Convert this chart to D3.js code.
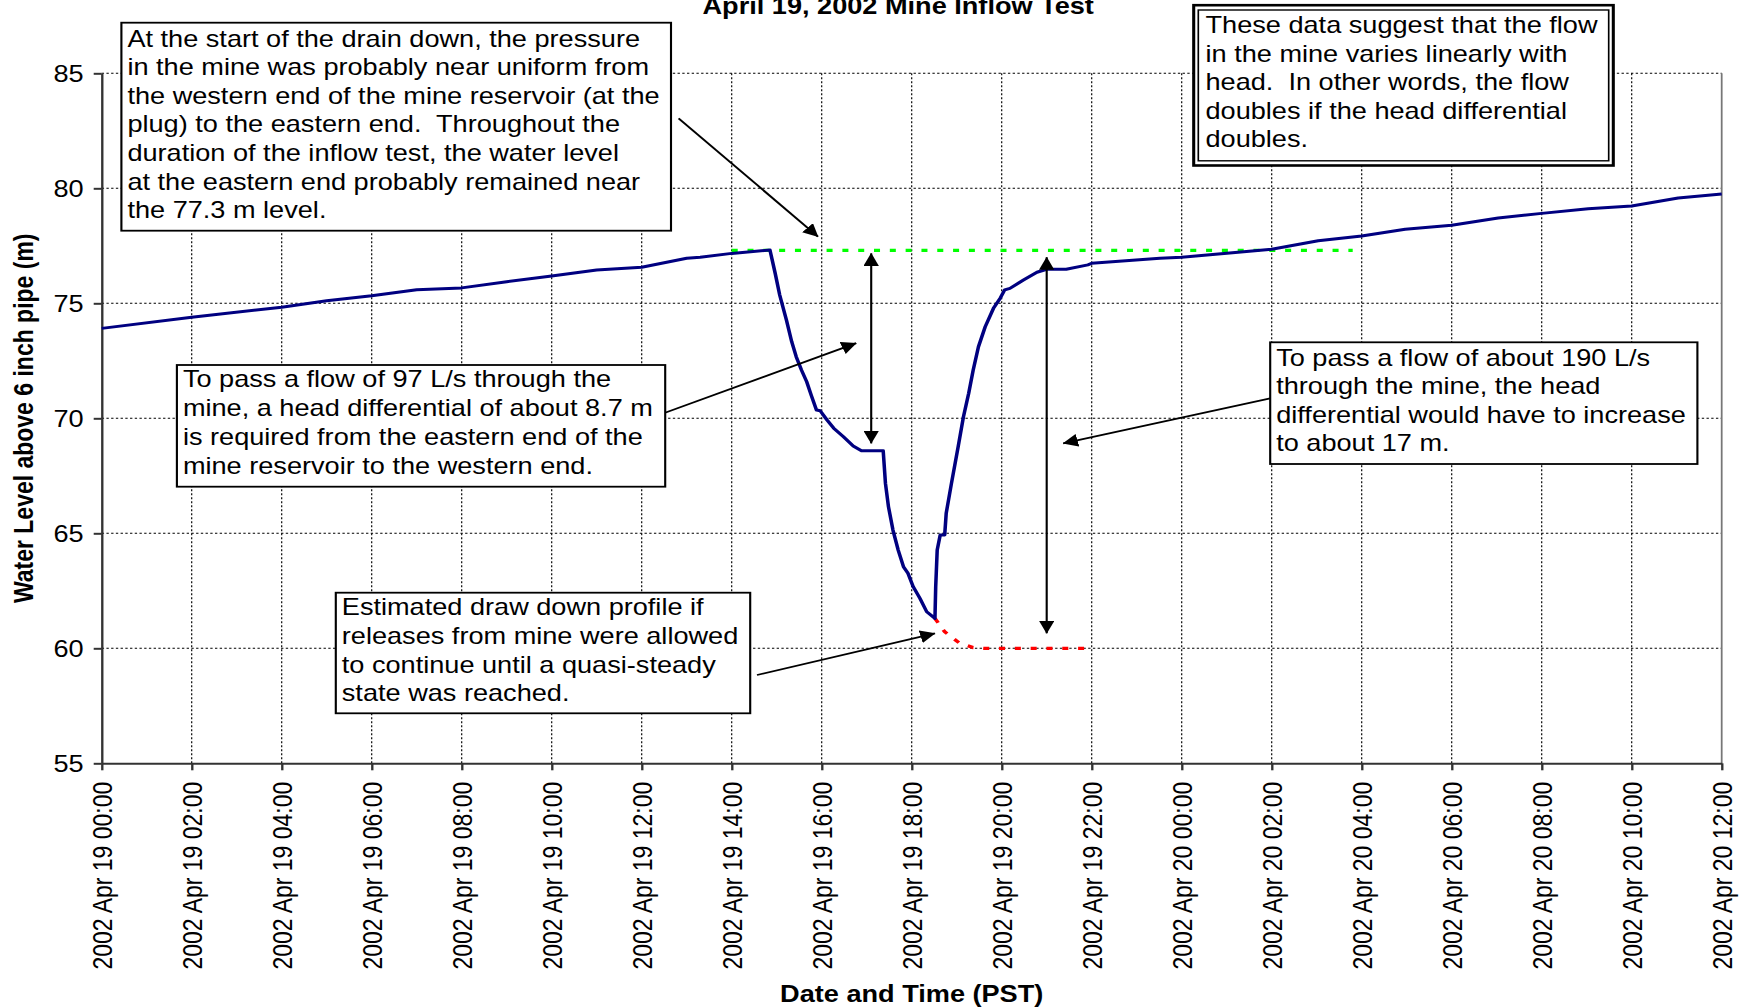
<!DOCTYPE html>
<meta charset="utf-8">
<script src="https://d3js.org/d3.v7.min.js"></script>
<style>
body { margin: 0; background: #fff; }
text { font-family: "Liberation Sans", Arial, sans-serif; fill: #000; }
.note text { font-size: 23px; white-space: pre; }
.grid line { stroke: #000; stroke-width: 1; stroke-dasharray: 2,2; }
.axis path, .axis line { stroke: #333; stroke-width: 2; }
.axis text { font-size: 23px; }
.lbl { font-size: 23px; font-weight: bold; }
</style>
<div id="chart"></div>
<script>

// the original export is stretched sideways, so everything is drawn in a squeezed frame
var SX = 1.18;
var W = 1743, H = 1008;

// water level record (PST), metres above the 6 inch pipe
var times = [
  "2002-04-19 00:00", "2002-04-19 02:00", "2002-04-19 04:00", "2002-04-19 05:00",
  "2002-04-19 06:00", "2002-04-19 07:00", "2002-04-19 08:00", "2002-04-19 09:00",
  "2002-04-19 10:00", "2002-04-19 11:00", "2002-04-19 12:00", "2002-04-19 13:00",
  "2002-04-19 13:18", "2002-04-19 14:00", "2002-04-19 14:51", "2002-04-19 14:58",
  "2002-04-19 15:04", "2002-04-19 15:13", "2002-04-19 15:20", "2002-04-19 15:26",
  "2002-04-19 15:33", "2002-04-19 15:40", "2002-04-19 15:46", "2002-04-19 15:53",
  "2002-04-19 15:58", "2002-04-19 16:07", "2002-04-19 16:16", "2002-04-19 16:29",
  "2002-04-19 16:42", "2002-04-19 16:53", "2002-04-19 17:22", "2002-04-19 17:25",
  "2002-04-19 17:29", "2002-04-19 17:35", "2002-04-19 17:42", "2002-04-19 17:49",
  "2002-04-19 17:55", "2002-04-19 18:02", "2002-04-19 18:11", "2002-04-19 18:20",
  "2002-04-19 18:31", "2002-04-19 18:32", "2002-04-19 18:34", "2002-04-19 18:38",
  "2002-04-19 18:44", "2002-04-19 18:46", "2002-04-19 18:53", "2002-04-19 19:02",
  "2002-04-19 19:09", "2002-04-19 19:16", "2002-04-19 19:22", "2002-04-19 19:29",
  "2002-04-19 19:38", "2002-04-19 19:49", "2002-04-19 19:58", "2002-04-19 20:04",
  "2002-04-19 20:11", "2002-04-19 20:29", "2002-04-19 20:47", "2002-04-19 21:00",
  "2002-04-19 21:26", "2002-04-19 21:55", "2002-04-19 22:00", "2002-04-19 23:31",
  "2002-04-20 00:00", "2002-04-20 02:00", "2002-04-20 03:02", "2002-04-20 04:00",
  "2002-04-20 04:58", "2002-04-20 06:00", "2002-04-20 07:02", "2002-04-20 08:00",
  "2002-04-20 09:02", "2002-04-20 10:00", "2002-04-20 11:02", "2002-04-20 12:00"
];
var levels = [
  73.91, 74.39, 74.83, 75.11,
  75.33, 75.59, 75.67, 75.94,
  76.19, 76.45, 76.57, 76.96,
  77.00, 77.17, 77.32, 76.30,
  75.36, 74.27, 73.33, 72.68,
  72.10, 71.59, 71.01, 70.36,
  70.33, 69.93, 69.57, 69.20,
  68.80, 68.59, 68.59, 67.17,
  66.16, 65.14, 64.27, 63.55,
  63.26, 62.68, 62.17, 61.59,
  61.30, 62.68, 64.27, 64.93,
  64.93, 65.87, 67.17, 68.77,
  70.07, 71.09, 72.10, 73.11,
  73.98, 74.78, 75.22, 75.58,
  75.65, 76.01, 76.35, 76.48,
  76.48, 76.67, 76.74, 76.96,
  77.00, 77.35, 77.72, 77.93,
  78.22, 78.39, 78.71, 78.91,
  79.11, 79.23, 79.58, 79.75
];

// estimated draw down if releases had continued
var estTimes = ["2002-04-19 18:31", "2002-04-19 18:44", "2002-04-19 19:04", "2002-04-19 19:22", "2002-04-19 19:36", "2002-04-19 21:53"];
var estLevels = [61.30, 60.72, 60.22, 60.03, 60.00, 60.00];

// eastern end level
var eastTimes = ["2002-04-19 14:00", "2002-04-20 03:48"];
var eastLevel = 77.3;

// head differential arrows [time, top level, bottom level]
var headArrows = [
  ["2002-04-19 17:06", 77.17, 68.91],
  ["2002-04-19 21:00", 77.00, 60.65]
];

var yTicks = [55, 60, 65, 70, 75, 80, 85];
var xTickStart = "2002-04-19 00:00", xTickEnd = "2002-04-20 12:00";

// text boxes: [left, top, width, height, first baseline, line step] in page px
var noteBoxes = [
  [121.4, 22.7, 549.6, 208, 46.7, 28.6],
  [176.9, 365, 488.3, 121.7, 387.5, 28.7],
  [1270.2, 342.3, 427.2, 121.7, 366.3, 28.2],
  [335.8, 592.7, 414.4, 120.6, 615.3, 28.7]
];
var noteTexts = [
  ["At the start of the drain down, the pressure",
   "in the mine was probably near uniform from",
   "the western end of the mine reservoir (at the",
   "plug) to the eastern end.  Throughout the",
   "duration of the inflow test, the water level",
   "at the eastern end probably remained near",
   "the 77.3 m level."],
  ["To pass a flow of 97 L/s through the",
   "mine, a head differential of about 8.7 m",
   "is required from the eastern end of the",
   "mine reservoir to the western end."],
  ["To pass a flow of about 190 L/s",
   "through the mine, the head",
   "differential would have to increase",
   "to about 17 m."],
  ["Estimated draw down profile if",
   "releases from mine were allowed",
   "to continue until a quasi-steady",
   "state was reached."]
];
var summaryText = [
  "These data suggest that the flow",
  "in the mine varies linearly with",
  "head.  In other words, the flow",
  "doubles if the head differential",
  "doubles."
];

// pointer arrows: tail in page px, tip as [time, level]
var pointers = [
  [[678.6, 118.3], ["2002-04-19 15:55", 77.9]],
  [[663, 413.5], ["2002-04-19 16:46", 73.27]],
  [[1270.2, 398.3], ["2002-04-19 21:22", 68.91]],
  [[757, 675], ["2002-04-19 18:31", 60.65]]
];

var parse = d3.timeParse("%Y-%m-%d %H:%M");
var fmt = d3.timeFormat("%Y %b %d %H:%M");
function ix(v) { return v / SX; }

var plot = {left: 101.7, right: 1721.7, top: 73.3, bottom: 763.3};

var svg = d3.select("#chart").append("svg")
    .attr("width", W)
    .attr("height", H);

svg.append("defs").append("marker")
    .attr("id", "head")
    .attr("viewBox", "0 0 13 13")
    .attr("refX", 12.5).attr("refY", 6.5)
    .attr("markerWidth", 13).attr("markerHeight", 13)
    .attr("markerUnits", "userSpaceOnUse")
    .attr("orient", "auto-start-reverse")
  .append("path")
    .attr("d", "M0,0L13,6.5L0,13z")
    .attr("fill", "#000");

var g = svg.append("g").attr("transform", "scale(" + SX + ",1)");

var x = d3.scaleTime()
    .domain([parse(xTickStart), parse(xTickEnd)])
    .range([ix(plot.left), ix(plot.right)]);
var y = d3.scaleLinear()
    .domain([55, 85])
    .range([plot.bottom, plot.top]);

var xTicks = d3.timeHour.every(2).range(parse(xTickStart), d3.timeMinute.offset(parse(xTickEnd), 1));

// gridlines
g.append("g").attr("class", "grid")
  .selectAll("line").data(yTicks.slice(1)).join("line")
    .attr("x1", x.range()[0]).attr("x2", x.range()[1])
    .attr("y1", d => y(d)).attr("y2", d => y(d));
g.append("g").attr("class", "grid")
  .selectAll("line").data(xTicks.slice(1, -1)).join("line")
    .attr("x1", d => x(d)).attr("x2", d => x(d))
    .attr("y1", plot.top).attr("y2", plot.bottom);
g.append("line")
    .attr("x1", x.range()[1]).attr("x2", x.range()[1])
    .attr("y1", plot.top).attr("y2", plot.bottom)
    .attr("stroke", "#777").attr("stroke-width", 1.5);

// axes
var yAxis = g.append("g").attr("class", "axis")
    .attr("transform", "translate(" + ix(plot.left) + ",0)")
    .call(d3.axisLeft(y).tickValues(yTicks).tickSize(ix(8)).tickSizeOuter(0).tickPadding(ix(10)));
yAxis.selectAll("text").attr("dy", "0.36em");

var xAxis = g.append("g").attr("class", "axis")
    .attr("transform", "translate(0," + plot.bottom + ")")
    .call(d3.axisBottom(x).tickValues(xTicks).tickSize(7).tickSizeOuter(0).tickFormat(fmt));
xAxis.selectAll("text")
    .attr("transform", "rotate(-90)")
    .attr("text-anchor", "end")
    .attr("x", -18.4)
    .attr("y", 0)
    .attr("dy", "0.36em");

// series
var line = d3.line().x(d => x(d[0])).y(d => y(d[1]));

g.append("path")
    .datum(eastTimes.map(t => [parse(t), eastLevel]))
    .attr("d", line)
    .attr("fill", "none")
    .attr("stroke", "#00ff00")
    .attr("stroke-width", 3.2)
    .attr("stroke-dasharray", "5.1,8.3");

g.append("path")
    .datum(estTimes.map((t, i) => [parse(t), estLevels[i]]))
    .attr("d", line)
    .attr("fill", "none")
    .attr("stroke", "#ff0000")
    .attr("stroke-width", 3.2)
    .attr("stroke-dasharray", "5.1,8.3");

g.append("path")
    .datum(times.map((t, i) => [parse(t), levels[i]]))
    .attr("d", line)
    .attr("fill", "none")
    .attr("stroke", "#000080")
    .attr("stroke-width", 3)
    .attr("stroke-linejoin", "round");

// head differential arrows
g.append("g").selectAll("line").data(headArrows).join("line")
    .attr("x1", d => x(parse(d[0]))).attr("x2", d => x(parse(d[0])))
    .attr("y1", d => y(d[1])).attr("y2", d => y(d[2]))
    .attr("stroke", "#000").attr("stroke-width", 1.8)
    .attr("marker-start", "url(#head)")
    .attr("marker-end", "url(#head)");

// pointers from the notes
g.append("g").selectAll("line").data(pointers).join("line")
    .attr("x1", d => ix(d[0][0])).attr("y1", d => d[0][1])
    .attr("x2", d => x(parse(d[1][0]))).attr("y2", d => y(d[1][1]))
    .attr("stroke", "#000").attr("stroke-width", 1.8)
    .attr("marker-end", "url(#head)");

// notes
var note = g.append("g").attr("class", "note")
  .selectAll("g").data(noteBoxes).join("g");
note.append("rect")
    .attr("x", d => ix(d[0])).attr("y", d => d[1])
    .attr("width", d => ix(d[2])).attr("height", d => d[3])
    .attr("fill", "#fff").attr("stroke", "#000").attr("stroke-width", 1.8);
note.each(function(d, i) {
  d3.select(this).selectAll("text").data(noteTexts[i]).join("text")
      .attr("x", ix(d[0] + 6))
      .attr("y", (t, j) => d[4] + j * d[5])
      .text(t => t);
});

// summary box with double border
var sum = g.append("g").attr("class", "note");
sum.append("rect")
    .attr("x", ix(1193.7)).attr("y", 5.2).attr("width", ix(419.6)).attr("height", 160.3)
    .attr("fill", "#fff").attr("stroke", "#000").attr("stroke-width", 2.6);
sum.append("rect")
    .attr("x", ix(1198.3)).attr("y", 10).attr("width", ix(410.4)).attr("height", 150.8)
    .attr("fill", "none").attr("stroke", "#000").attr("stroke-width", 1.4);
sum.selectAll("text").data(summaryText).join("text")
    .attr("x", ix(1205.5))
    .attr("y", (t, j) => 33.5 + j * 28.35)
    .text(t => t);

// titles
g.append("text").attr("class", "lbl")
    .attr("x", ix(702.5)).attr("y", 14)
    .text("April 19, 2002 Mine Inflow Test");
g.append("text").attr("class", "lbl")
    .attr("x", ix(911.7)).attr("y", 1002)
    .attr("text-anchor", "middle")
    .text("Date and Time (PST)");
g.append("text").attr("class", "lbl")
    .attr("transform", "translate(" + ix(32.5) + "," + (plot.top + plot.bottom) / 2 + ") rotate(-90)")
    .attr("text-anchor", "middle")
    .text("Water Level above 6 inch pipe (m)");

</script>
